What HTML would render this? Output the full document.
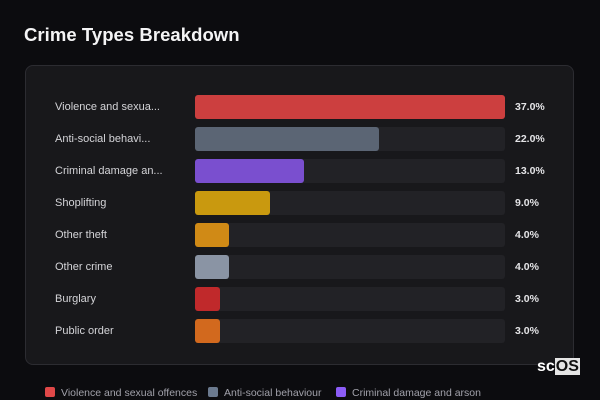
<!DOCTYPE html>
<html><head><meta charset="utf-8"><style>
body{margin:0;width:600px;height:400px;background:#0c0c0f;font-family:"Liberation Sans",sans-serif;overflow:hidden;position:relative}
.title{position:absolute;left:24px;top:24px;font-size:18.5px;font-weight:bold;color:#f4f4f5;letter-spacing:0.05px}
.card{position:absolute;left:25px;top:65px;width:549px;height:300px;background:#18181b;border:1px solid #2c2c31;border-radius:8px;box-sizing:border-box}
.lbl{position:absolute;left:55px;font-size:11px;color:#d4d4d8;line-height:24px}
.track{position:absolute;left:195px;width:310px;height:24px;background:#222226;border-radius:3px}
.bar{position:absolute;left:195px;height:24px;border-radius:3px}
.val{position:absolute;left:515px;font-size:10.5px;font-weight:bold;color:#e4e4e7;line-height:24px}
.leg{position:absolute;top:386px;font-size:10.5px;color:#a1a1aa;line-height:14px}
.leg span{display:inline-block;width:10px;height:10px;border-radius:2px;vertical-align:-1px;margin-right:6px}
.logo{position:absolute;left:537px;top:358px;font-size:16px;font-weight:bold;color:#fff}
.logo b{background:#e5e5e5;color:#111;padding:0 1px}
</style></head><body>
<div class="title">Crime Types Breakdown</div>
<div class="card"></div>
<div id="rows"></div>
<div class="leg" style="left:45px"><span style="background:#e04848"></span>Violence and sexual offences</div>
<div class="leg" style="left:208px"><span style="background:#6b7a8f"></span>Anti-social behaviour</div>
<div class="leg" style="left:336px"><span style="background:#8b5cf6"></span>Criminal damage and arson</div>
<div class="logo">sc<b>OS</b></div>
<script>
const categories=["Violence and sexua...","Anti-social behavi...","Criminal damage an...","Shoplifting","Other theft","Other crime","Burglary","Public order"];
const values=[37,22,13,9,4,4,3,3];
const colors=["#cc3f3f","#5b6574","#7a4fcf","#c9990f","#d08a16","#8a94a4","#c0292b","#d2691e"];
const maxV=37,trackW=310,y0=95,step=32;
const x=v=>v/maxV*trackW;
const root=document.getElementById('rows');
categories.forEach((c,i)=>{
  const y=y0+i*step;
  const l=document.createElement('div');l.className='lbl';l.style.top=y+'px';l.textContent=c;
  
  
  const t=document.createElement('div');t.className='track';t.style.top=y+'px';
  
  
  const b=document.createElement('div');b.className='bar';b.style.top=y+'px';b.style.width=x(values[i])+'px';b.style.background=colors[i];
  
  
  const v=document.createElement('div');v.className='val';v.style.top=y+'px';v.textContent=values[i].toFixed(1)+'%';
  
  
  root.append(l,t,b,v);
});
</script>
</body></html>
